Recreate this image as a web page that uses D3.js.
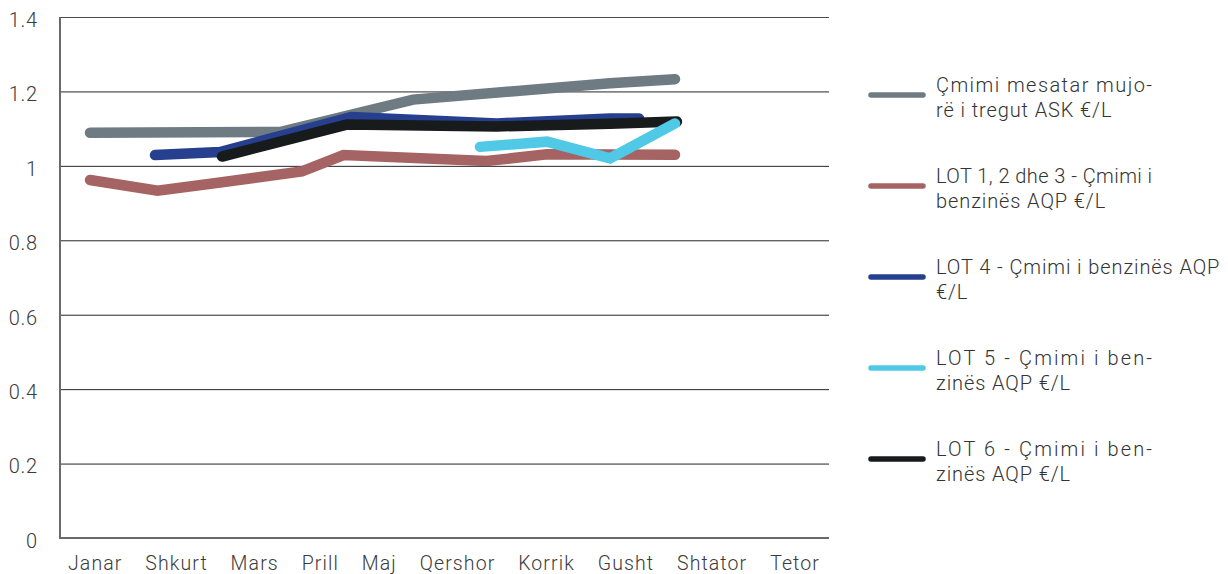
<!DOCTYPE html>
<html>
<head>
<meta charset="utf-8">
<script src="https://cdn.jsdelivr.net/npm/d3@7"></script>
<style>
  html, body { margin: 0; padding: 0; background: #fff; }
  svg { display: block; font-family: Roboto, "Noto Sans", sans-serif; font-weight: 300; }
</style>
</head>
<body>
<svg id="chart" width="1228" height="574"></svg>
<script>
// Month labels along the bottom
const months = ["Janar", "Shkurt", "Mars", "Prill", "Maj", "Qershor", "Korrik", "Gusht", "Shtator", "Tetor"];
// Value axis ticks
const yTicks = [0, 0.2, 0.4, 0.6, 0.8, 1, 1.2, 1.4];

// Price series: position in months (0 = Janar) and price in €/L
const askPos = [0, 2.92, 4.97, 8, 9];
const askVal = [1.089, 1.091, 1.178, 1.222, 1.233];

const lot123Pos = [0, 1.04, 2.03, 3.26, 3.9, 6.1, 7.03, 9];
const lot123Val = [0.962, 0.933, 0.956, 0.985, 1.029, 1.013, 1.031, 1.03];

const lot4Pos = [1, 2, 4.02, 6.26, 8, 8.45];
const lot4Val = [1.029, 1.037, 1.131, 1.114, 1.127, 1.127];

const lot5Pos = [6, 7.03, 8, 9];
const lot5Val = [1.051, 1.065, 1.02, 1.114];

const lot6Pos = [2.03, 3.95, 6.26, 8, 9.03];
const lot6Val = [1.025, 1.111, 1.106, 1.113, 1.119];

const seriesNames = [
  ["Çmimi mesatar mujo-", "rë i tregut ASK €/L"],
  ["LOT 1, 2 dhe 3 - Çmimi i", "benzinës AQP €/L"],
  ["LOT 4 - Çmimi i benzinës AQP", "€/L"],
  ["LOT 5 - Çmimi i ben-", "zinës AQP €/L"],
  ["LOT 6 - Çmimi i ben-", "zinës AQP €/L"]
];
const seriesColors = ["#6e7b83", "#a56363", "#263f8f", "#4fc9e5", "#171b1c"];

const series = [
  { pos: askPos, val: askVal },
  { pos: lot123Pos, val: lot123Val },
  { pos: lot4Pos, val: lot4Val },
  { pos: lot5Pos, val: lot5Val },
  { pos: lot6Pos, val: lot6Val }
].map((s, i) => ({ ...s, name: seriesNames[i], color: seriesColors[i] }));

// drawing order: ASK, LOT 1-3, LOT 4, LOT 6, LOT 5 on top
const drawOrder = [0, 1, 2, 4, 3];

const svg = d3.select("#chart");
const plot = { left: 60, right: 829, top: 17, bottom: 538 };

const y = d3.scaleLinear().domain([0, 1.4]).range([plot.bottom, plot.top]);
const x = d3.scaleLinear().domain([0, 9]).range([90, 675]);

// horizontal gridlines
svg.append("g")
  .selectAll("line")
  .data(yTicks.filter(t => t > 0))
  .join("line")
  .attr("x1", plot.left).attr("x2", plot.right)
  .attr("y1", d => y(d) + 0.5).attr("y2", d => y(d) + 0.5)
  .attr("stroke", d => d === 1.4 ? "#4a4a4a" : "#262626")
  .attr("stroke-width", 1);

// baseline and left axis
svg.append("line")
  .attr("x1", plot.left).attr("x2", plot.right)
  .attr("y1", y(0)).attr("y2", y(0))
  .attr("stroke", "#6a6a6a").attr("stroke-width", 2);
svg.append("line")
  .attr("x1", plot.left).attr("x2", plot.left)
  .attr("y1", y(1.4)).attr("y2", y(0) + 1)
  .attr("stroke", "#6a6a6a").attr("stroke-width", 2);

// y tick labels
const yAxis = d3.axisLeft(y).tickValues(yTicks).tickSize(0).tickPadding(0)
  .tickFormat(d => d3.format("~g")(d));
const yg = svg.append("g").attr("transform", `translate(38,0)`).call(yAxis);
yg.select(".domain").remove();
yg.selectAll("text")
  .attr("font-family", "Roboto, sans-serif")
  .attr("font-weight", 300)
  .attr("font-size", 20)
  .attr("fill", "#3a3a3a")
  .attr("dy", "0.62em")
  .attr("y", -3)
  .attr("letter-spacing", 0.8);

// month labels laid out in one evenly spaced row
const xl = svg.append("g");
const labels = xl.selectAll("text")
  .data(months)
  .join("text")
  .attr("y", 570)
  .attr("font-size", 19.5)
  .attr("letter-spacing", 1.1)
  .attr("fill", "#3a3a3a")
  .text(d => d);
const widths = labels.nodes().map(n => n.getComputedTextLength());
const rowStart = 68, rowEnd = 820;
const gap = (rowEnd - rowStart - d3.sum(widths)) / (months.length - 1);
let cursor = rowStart;
labels.attr("x", (d, i) => { const p = cursor; cursor += widths[i] + gap; return p; });

// price lines
const line = d3.line()
  .x(d => x(d[0]))
  .y(d => y(d[1]));

svg.append("g")
  .selectAll("path")
  .data(drawOrder.map(i => series[i]))
  .join("path")
  .attr("d", s => line(s.pos.map((p, k) => [p, s.val[k]])))
  .attr("fill", "none")
  .attr("stroke", s => s.color)
  .attr("stroke-width", 10.5)
  .attr("stroke-linecap", "round")
  .attr("stroke-linejoin", "miter");

// legend
const legendY = d3.scalePoint().domain(d3.range(series.length)).range([95, 459]);
const lg = svg.append("g");
const items = lg.selectAll("g")
  .data(series)
  .join("g")
  .attr("transform", (d, i) => `translate(0,${legendY(i)})`);
items.append("line")
  .attr("x1", 871).attr("x2", 923)
  .attr("y1", 0).attr("y2", 0)
  .attr("stroke", d => d.color)
  .attr("stroke-width", 5.5)
  .attr("stroke-linecap", "round");
items.each(function (d, i) {
  const g = d3.select(this);
  d.name.forEach((ln, k) => {
    const t = g.append("text")
      .attr("x", 936)
      .attr("y", k === 0 ? -3 : 22)
      .attr("font-size", 20)
      .attr("letter-spacing", 0.9)
      .attr("fill", "#333")
      .text(ln);
    // first lines of a wrapped label are justified to the column width
    if (k === 0 && i !== 2) {
      t.attr("textLength", 217).attr("lengthAdjust", "spacing");
    }
  });
});
</script>
</body>
</html>
